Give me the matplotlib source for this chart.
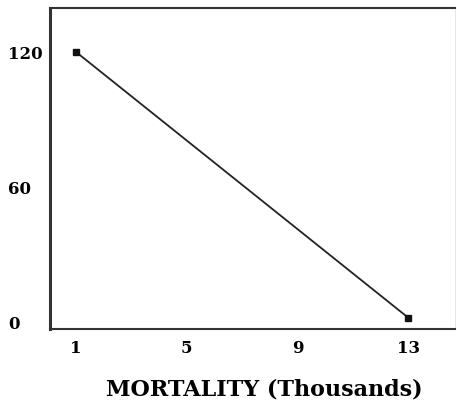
import matplotlib
matplotlib.use("Agg")
import matplotlib.pyplot as plt

mortality = [1, 13]
values = [120, 2]
xticks = [1, 5, 9, 13]
yticks = [0, 60, 120]

plt.rcParams['font.family'] = ['DejaVu Serif']

fig = plt.figure(figsize=(4.57, 4.07), dpi=100)
ax = fig.add_axes([0.109, 0.192, 0.887, 0.788])

ax.plot(mortality, values, color='#222222', lw=1.3, marker='s', ms=4,
        markerfacecolor='#111111', markeredgecolor='#111111')

ax.set_xlim(0.05, 14.7)
ax.set_ylim(-3, 139.5)
ax.set_xticks(xticks)
ax.set_yticks(yticks)
ax.tick_params(length=0, labelsize=12)
ax.tick_params(axis='x', pad=8)
ax.tick_params(axis='y', pad=30)
for lab in ax.get_xticklabels() + ax.get_yticklabels():
    lab.set_fontweight('bold')
for lab in ax.get_yticklabels():
    lab.set_horizontalalignment('left')

ax.spines['left'].set_linewidth(2.2)
ax.spines['bottom'].set_linewidth(1.5)
ax.spines['top'].set_linewidth(1.5)
ax.spines['right'].set_linewidth(0.5)
ax.spines['right'].set_color('#dddddd')
for s in ['left', 'bottom', 'top']:
    ax.spines[s].set_color('#333333')

ax.set_xlabel('MORTALITY (Thousands)', fontsize=16, fontweight='bold')
ax.xaxis.set_label_coords(0.528, -0.155)

fig.savefig('out.png', dpi=100)
